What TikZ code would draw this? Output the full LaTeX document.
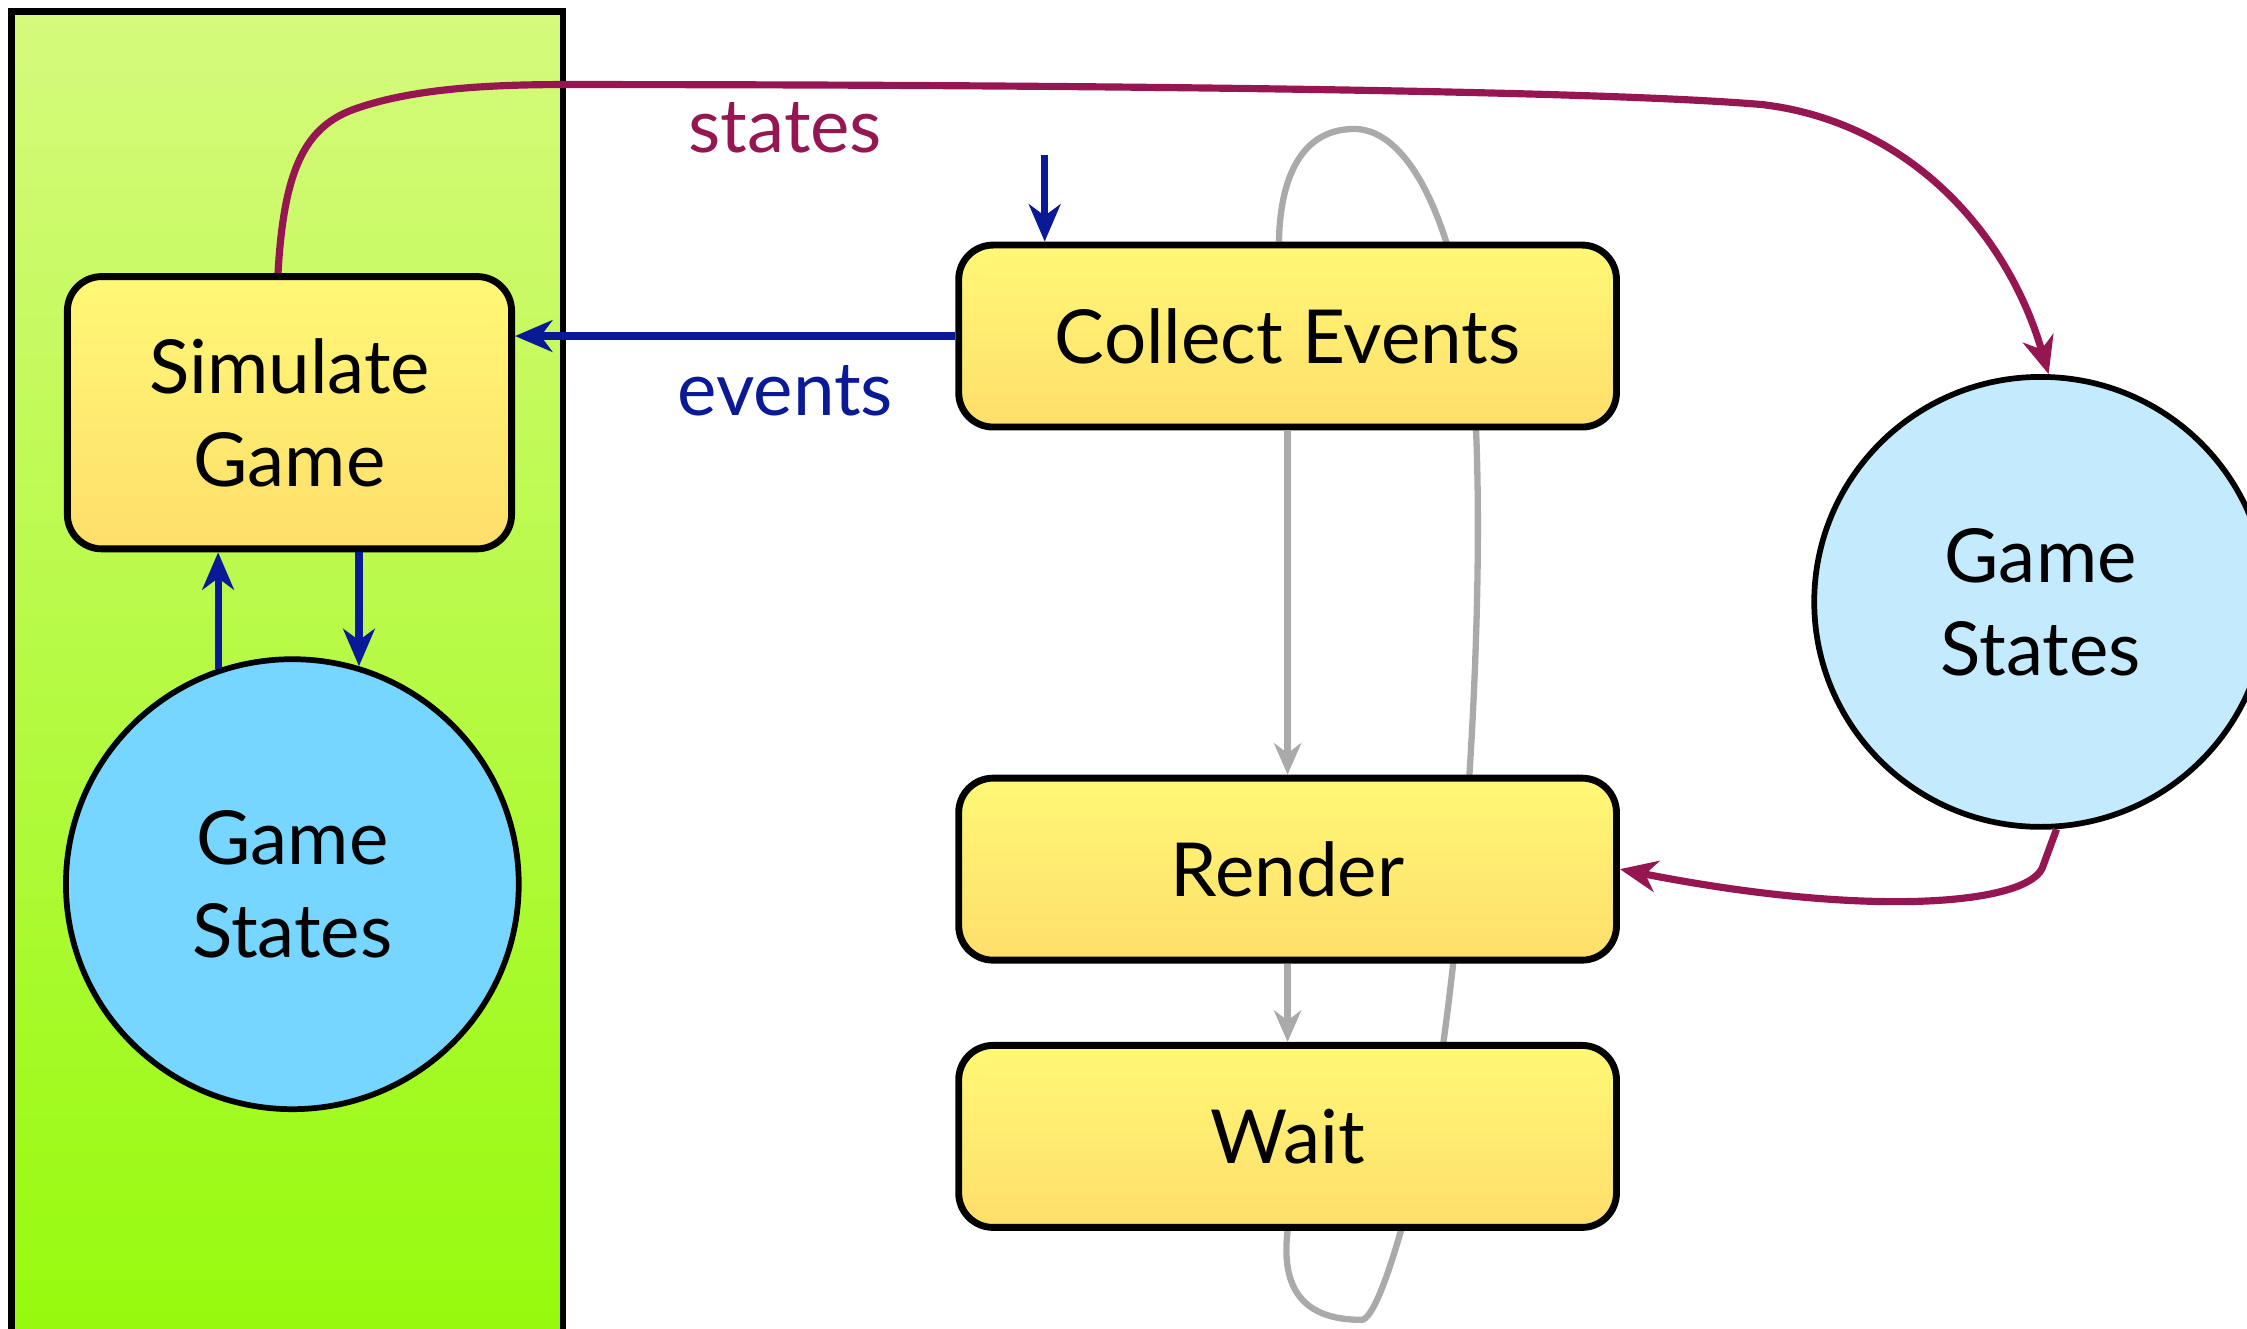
\documentclass[tikz,border=0pt]{standalone}
\usepackage{fontspec}
\setmainfont{Lato}
\usetikzlibrary{arrows.meta,shapes.geometric}
\pgfdeclarelayer{background}
\pgfsetlayers{background,main}
\definecolor{greenTop}{RGB}{214,250,124}
\definecolor{greenBot}{RGB}{150,250,12}
\definecolor{boxTop}{RGB}{255,248,118}
\definecolor{boxBot}{RGB}{254,222,107}
\definecolor{storeDark}{RGB}{118,214,255}
\definecolor{storeLight}{RGB}{195,235,253}
\definecolor{arrowBlue}{RGB}{10,26,150}
\definecolor{statesRed}{RGB}{150,22,82}
\definecolor{loopGray}{RGB}{170,170,170}
\tikzset{
  proc/.style={rectangle, rounded corners=12pt, draw=black, line width=2.4pt,
    top color=boxTop, bottom color=boxBot, align=center,
    font=\fontsize{26}{32.5}\selectfont, inner sep=0pt},
  store/.style={ellipse, draw=black, line width=2pt, align=center,
    font=\fontsize{26}{32.5}\selectfont, inner sep=0pt,
    minimum width=158pt, minimum height=157pt},
  lbl/.style={font=\fontsize{26}{32.5}\selectfont, inner sep=0pt},
  bluearr/.style={draw=arrowBlue, line width=2.5pt, -{Stealth[length=13pt,width=11pt,inset=4pt]}},
  magarr/.style={draw=statesRed, line width=2.5pt, -{Stealth[length=13pt,width=11pt,inset=4pt]}},
  grayarr/.style={draw=loopGray, line width=2.2pt, -{Stealth[length=11pt,width=9.5pt,inset=3.5pt]}},
  grayline/.style={draw=loopGray, line width=2.2pt},
}
\begin{document}
\begin{tikzpicture}[x=0.5pt,y=-0.5pt]
\useasboundingbox (0,0) rectangle (1568,927);
\clip (0,0) rectangle (1568,927);
% simulation panel
\draw[line width=2.2pt, top color=greenTop, bottom color=greenBot] (8,8) rectangle (393,940);

% nodes
\node[proc, minimum width=155pt, minimum height=95pt] (sg) at (202,288) {Simulate\\Game};
\node[store, fill=storeDark] (gsl) at (204,617) {Game\\States};
\node[proc, minimum width=229.5pt, minimum height=63.5pt] (ce) at (898.5,234.5) {Collect Events};
\node[proc, minimum width=229.5pt, minimum height=63.5pt] (rn) at (898.5,606.5) {Render};
\node[proc, minimum width=229.5pt, minimum height=63.5pt] (wt) at (898.5,793) {Wait};
\node[store, fill=storeLight] (gsr) at (1424,420) {Game\\States};

% labels
\node[lbl, text=statesRed] (lstates) at (548,89) {states};
\node[lbl, text=arrowBlue] (levents) at (548,273) {events};

% blue connectors
\coordinate (evin) at (729,108);
\draw[bluearr] (evin) -- (evin |- ce.north);
\draw[bluearr] (ce.west) -- (ce.west -| sg.east);
\draw[bluearr] (gsl.109) -- (gsl.109 |- sg.south);
\draw[bluearr] (sg.south -| gsl.73) -- (gsl.73);

% magenta connectors
\draw[magarr] ([xshift=-4pt]sg.north) .. controls (198,120) and (212,90) .. (245,77)
  .. controls (285,62) and (340,59) .. (393,59)
  .. controls (700,59) and (1100,62) .. (1230,73)
  .. controls (1330,85) and (1400,160) .. (gsr.88);
\draw[magarr] (gsr.-86) -- (1425,606) .. controls (1412,632) and (1300,640) .. (rn.east);

% gray connectors
\draw[grayarr] (ce.south) -- (rn.north);
\draw[grayarr] (rn.south) -- (wt.north);
\begin{pgfonlayer}{background}
\draw[grayline] (wt.south) .. controls (893,905) and (915,921) .. (950,921)
  .. controls (965,921) and (995,800) .. (1007,729)
  .. controls (1025,600) and (1035,420) .. (1030,300)
  .. controls (1025,180) and (990,90) .. (945,90)
  .. controls (905,90) and (893,130) .. ([xshift=-3pt]ce.north);
\end{pgfonlayer}
\end{tikzpicture}
\end{document}
